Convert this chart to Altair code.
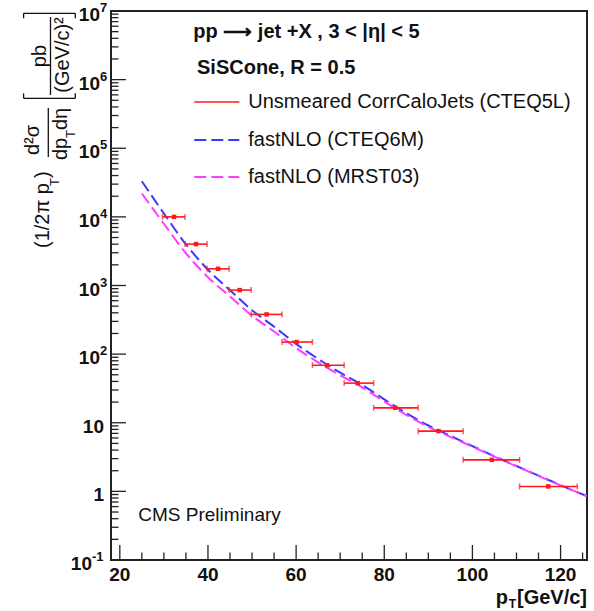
import altair as alt
import pandas as pd

# ---------------- data ----------------
pt_center = [32.3, 37.3, 42.3, 47.2, 53.3, 60.1, 67.0, 74.0, 82.5, 92.3, 104.4, 117.2]
pt_lo = [29.7, 34.8, 39.8, 44.8, 49.8, 56.8, 63.7, 70.9, 77.6, 87.7, 97.9, 110.7]
pt_hi = [34.8, 39.8, 44.8, 49.8, 56.8, 63.7, 70.9, 77.6, 87.7, 97.9, 110.7, 123.8]
pt_val = [10000, 4010, 1750, 857, 379, 150, 69, 37.8, 16.5, 7.55, 2.88, 1.18]

curve_pt = [25, 30, 35, 40, 45, 50, 55, 60, 65, 70, 75, 80, 85, 90, 95, 100, 105, 110, 115, 120, 126]
cteq6m = [33100, 11200, 3980, 1700, 851, 437, 251, 141, 85.1, 53.7, 35.5, 21.9, 13.8, 9.12, 6.46,
          4.57, 3.24, 2.34, 1.70, 1.23, 0.851]
mrst03 = [21900, 7940, 2950, 1320, 692, 363, 214, 123, 75.9, 49.0, 32.7, 20.4, 13.0, 8.71, 6.24,
          4.47, 3.20, 2.32, 1.68, 1.22, 0.851]

x_major = [20, 40, 60, 80, 100, 120]
x_labels = ["20", "40", "60", "80", "100", "120"]
x_minor = [25, 30, 35, 45, 50, 55, 65, 70, 75, 85, 90, 95, 105, 110, 115, 125]
y_decades = [0.1, 1, 10, 100, 1e3, 1e4, 1e5, 1e6, 1e7]
y_base = ["10", "1", "10", "10", "10", "10", "10", "10", "10"]
y_exp = ["-1", "", "", "2", "3", "4", "5", "6", "7"]
y_minor = [m * 10.0 ** e for e in range(-1, 7) for m in range(2, 10)]

legend_labels = ["Unsmeared CorrCaloJets (CTEQ5L)", "fastNLO (CTEQ6M)", "fastNLO (MRST03)"]

# ---------------- layout ----------------
W, H = 476, 549
FONT = "Liberation Sans"
RED, BLUE, MAG = "#ff1a1a", "#3a3aff", "#ff3cff"
FRAME = "#222222"

xscale = alt.Scale(domain=[18, 126], nice=False, zero=False)
yscale = alt.Scale(type="log", domain=[0.1, 1e7], nice=False)


def X(f):
    return alt.X(f, type="quantitative", scale=xscale, axis=None)


def Y(f):
    return alt.Y(f, type="quantitative", scale=yscale, axis=None)


one = pd.DataFrame({"a": [0]})


def txt(s, x, y, size=19, angle=0, align="left", baseline="middle", weight="normal", color="#111111"):
    kw = dict(text=s, fontSize=size, align=align, baseline=baseline, fontWeight=weight,
              font=FONT, color=color)
    if angle:
        kw["angle"] = angle
    return alt.Chart(one).mark_text(**kw).encode(x=alt.value(x), y=alt.value(y))


def seg(x1, y1, x2, y2, color="#111111", width=1.2, dash=None):
    kw = dict(color=color, strokeWidth=width)
    if dash:
        kw["strokeDash"] = dash
    return alt.Chart(one).mark_rule(**kw).encode(
        x=alt.value(x1), y=alt.value(y1), x2=alt.value(x2), y2=alt.value(y2))


pts = pd.DataFrame({"x": pt_center, "lo": pt_lo, "hi": pt_hi, "y": pt_val})
curves = pd.DataFrame({"x": curve_pt * 2, "y": cteq6m + mrst03,
                       "s": ["CTEQ6M"] * len(curve_pt) + ["MRST03"] * len(curve_pt)})

lines = alt.Chart(curves).mark_line(strokeWidth=2, strokeDash=[12, 5], clip=True,
                                    interpolate="monotone").encode(
    x=X("x"), y=Y("y"), detail="s:N",
    color=alt.Color("s:N", scale=alt.Scale(domain=["CTEQ6M", "MRST03"], range=[BLUE, MAG]), legend=None),
)

errbars = alt.Chart(pts).mark_rule(color=RED, strokeWidth=1.6).encode(x=X("lo"), x2="hi", y=Y("y"))
caps_lo = alt.Chart(pts).mark_tick(color=RED, orient="vertical", size=6, thickness=1.5).encode(x=X("lo"), y=Y("y"))
caps_hi = alt.Chart(pts).mark_tick(color=RED, orient="vertical", size=6, thickness=1.5).encode(x=X("hi"), y=Y("y"))
markers = alt.Chart(pts).mark_square(color=RED, size=20, opacity=1).encode(x=X("x"), y=Y("y"))

# ticks (inside the frame)
xmaj = alt.Chart(pd.DataFrame({"v": x_major, "t": x_labels}))
xt_major = xmaj.mark_rule(color=FRAME, strokeWidth=1.3).encode(x=X("v"), y=alt.value(H), y2=alt.value(H - 15))
xt_minor = alt.Chart(pd.DataFrame({"v": x_minor})).mark_rule(color=FRAME, strokeWidth=1.3).encode(
    x=X("v"), y=alt.value(H), y2=alt.value(H - 7.5))
xt_labels = xmaj.mark_text(font=FONT, fontSize=19, fontWeight="bold", baseline="middle", color="#111").encode(
    x=X("v"), y=alt.value(H + 15), text="t:N")

ydf = pd.DataFrame({"v": y_decades, "b": y_base, "e": y_exp})
ymaj = alt.Chart(ydf).transform_calculate(
    bx="datum.e == '' ? -7 : (length(datum.e) > 1 ? -19 : -11)")
yt_major = alt.Chart(ydf).mark_rule(color=FRAME, strokeWidth=1.3).encode(y=Y("v"), x=alt.value(0), x2=alt.value(15))
yt_minor = alt.Chart(pd.DataFrame({"v": y_minor})).mark_rule(color=FRAME, strokeWidth=1.3).encode(
    y=Y("v"), x=alt.value(0), x2=alt.value(7.5))
yl_base = ymaj.mark_text(font=FONT, fontSize=19, fontWeight="bold", align="right", baseline="middle",
                         dy=4, color="#111").encode(
    x=alt.X("bx:Q", scale=None, axis=None), y=Y("v"), text="b:N")
yl_exp = ymaj.mark_text(font=FONT, fontSize=13, fontWeight="bold", align="left", baseline="middle",
                        dy=-3, color="#111").encode(
    x=alt.X("bx:Q", scale=None, axis=None), y=Y("v"), text="e:N")

# y-axis title pieces (rotated)
ytitle = [
    txt("(1/2\u03c0 p", -67.7, 237, 20, 270),
    txt("T", -56.5, 175, 13, 270),
    txt(")", -67.7, 167, 20, 270),
    txt("d\u00b2\u03c3", -77.7, 129, 20, 270, align="center"),
    seg(-62.7, 146, -62.7, 97, width=1.3),
    txt("dp", -49.7, 149, 20, 270),
    txt("T", -40.5, 127, 13, 270),
    txt("d\u03b7", -49.7, 119, 20, 270),
    seg(-87.4, 87.3, -35.7, 87.3, width=1.3),
    seg(-87.4, 87.3, -87.4, 82.3, width=1.3),
    seg(-35.7, 87.3, -35.7, 82.3, width=1.3),
    seg(-87.4, 2.3, -35.7, 2.3, width=1.3),
    seg(-87.4, 2.3, -87.4, 7.3, width=1.3),
    seg(-35.7, 2.3, -35.7, 7.3, width=1.3),
    txt("pb", -70.7, 45, 20, 270, align="center"),
    seg(-60.5, 84, -60.5, 6, width=1.3),
    txt("(GeV/c)\u00b2", -47.7, 44, 20, 270, align="center"),
]

# x-axis title
xtitle = [
    txt("[GeV/c]", W, H + 44, 20, align="right", baseline="alphabetic", weight="bold"),
    txt("T", W - 71, H + 48, 12, align="right", baseline="alphabetic", weight="bold"),
    txt("p", W - 79, H + 44, 20, align="right", baseline="alphabetic", weight="bold"),
]

# in-plot legend and labels
legend = [
    txt("pp \u27f6 jet +X , 3 < |\u03b7| < 5", 82.3, 27, 20, baseline="alphabetic", weight="bold"),
    txt("SiSCone, R = 0.5", 86, 63, 20, baseline="alphabetic", weight="bold"),
    seg(83.3, 91, 128.3, 91, color=RED, width=1.6),
    seg(83.3, 129, 128.3, 129, color=BLUE, width=2, dash=[12, 5]),
    seg(83.3, 166, 128.3, 166, color=MAG, width=2, dash=[12, 5]),
    txt(legend_labels[0], 137.3, 91, 20),
    txt(legend_labels[1], 137.3, 129, 20),
    txt(legend_labels[2], 137.3, 166, 20),
    txt("CMS Preliminary", 27.3, 504, 19, weight=500),
]

chart = alt.layer(
    lines, errbars, caps_lo, caps_hi, markers,
    xt_major, xt_minor, xt_labels, yt_major, yt_minor, yl_base, yl_exp,
    *ytitle, *xtitle, *legend,
).properties(
    width=W, height=H,
    autosize=alt.AutoSizeParams(type="none"),
    padding={"left": 111, "top": 11, "right": 7, "bottom": 51},
).configure_view(stroke=FRAME, strokeWidth=2)

chart.save("out.html", embed_options={"renderer": "svg", "actions": False})
